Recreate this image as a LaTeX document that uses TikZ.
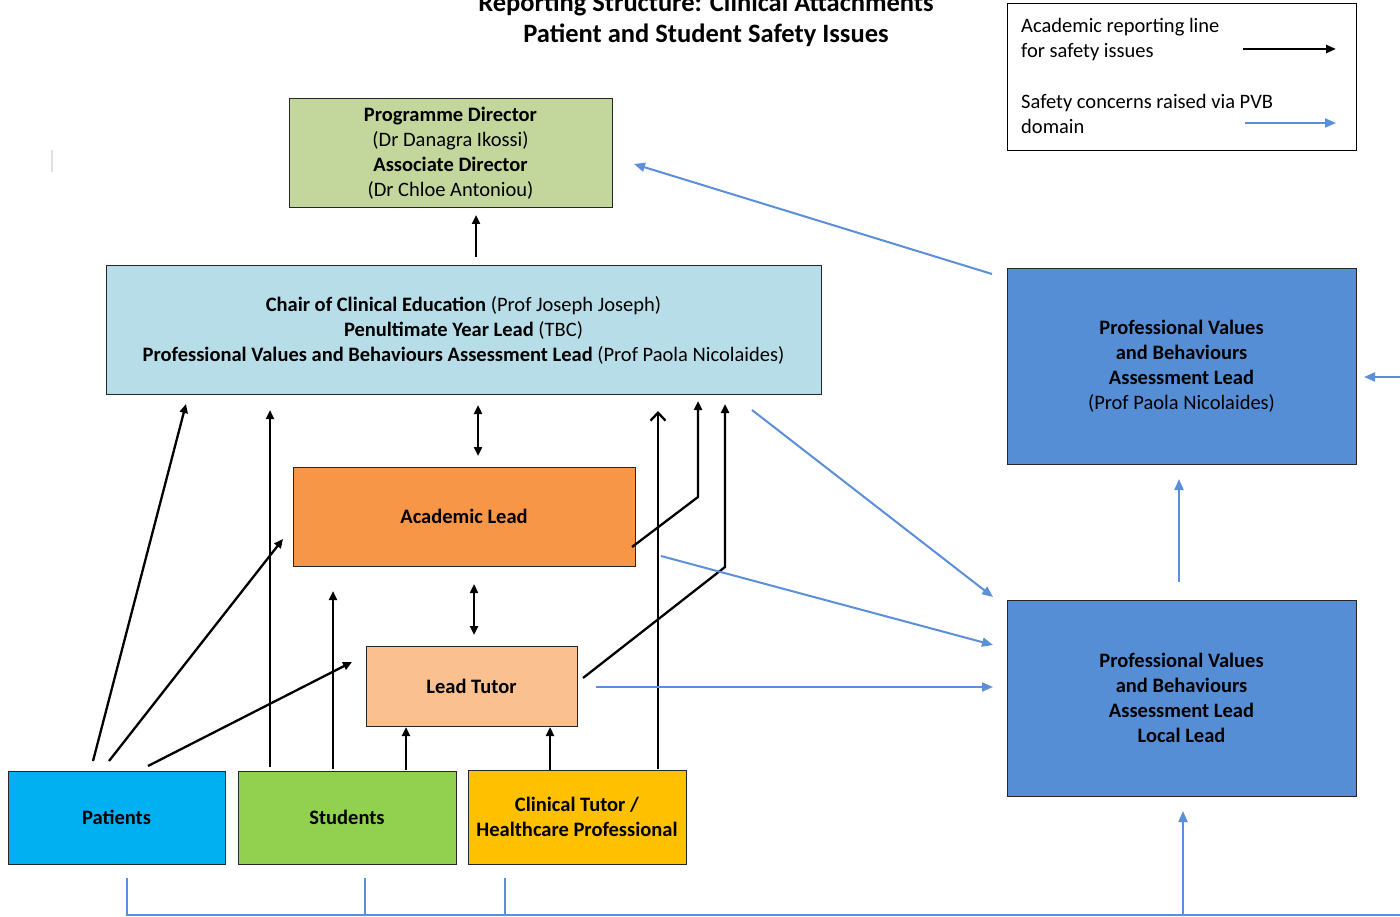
\documentclass[tikz,border=0pt]{standalone}
\usepackage{fontspec}
\setmainfont{Carlito}
\usetikzlibrary{arrows.meta}
\definecolor{pdgreen}{HTML}{C3D69B}
\definecolor{chairblue}{HTML}{B7DDE8}
\definecolor{acorange}{HTML}{F79646}
\definecolor{ltpeach}{HTML}{FAC090}
\definecolor{patcyan}{HTML}{00B0F0}
\definecolor{stugreen}{HTML}{92D050}
\definecolor{ctyellow}{HTML}{FFC000}
\definecolor{pvbfill}{HTML}{558ED5}
\definecolor{pvbline}{HTML}{5B8FD9}
\begin{document}
\begin{tikzpicture}[x=1pt,y=-1pt,
  box/.style={draw=black!85, line width=1pt, inner sep=0pt, align=center,
    font=\fontsize{20.5}{25}\selectfont},
  blk/.style={line width=2.3pt, black, -{Triangle[length=9pt,width=8pt]}},
  blkboth/.style={line width=2.3pt, black, {Triangle[length=9pt,width=8pt]}-{Triangle[length=9pt,width=8pt]}},
  blkopen/.style={line width=2.3pt, black, -{Straight Barb[length=8pt,width=15pt]}},
  blu/.style={line width=2pt, pvbline, -{Triangle[length=11pt,width=9pt]}},
  bluline/.style={line width=2pt, pvbline},
  legtext/.style={anchor=west, align=left, inner sep=0pt, font=\fontsize{20.5}{25}\selectfont}]
\useasboundingbox (0,0) rectangle (1400,917);
\clip (0,0) rectangle (1400,917);

% title
\node[align=center, font=\fontsize{26.5}{31}\selectfont\bfseries] (title) at (706,20)
  {Reporting Structure: Clinical Attachments\\Patient and Student Safety Issues};

% faint mark
\draw[black!12, line width=1.2pt] (52,150) -- (52,172);

% legend
\node[draw=black, line width=1pt, minimum width=349pt, minimum height=147pt, inner sep=0pt] (legend) at (1181.5,77.5) {};
\node[legtext] (leg1) at (1021,40) {Academic reporting line\\for safety issues};
\node[legtext] (leg2) at (1021,114) {Safety concerns raised via PVB\\domain};
\coordinate (l1a) at (1243,49); \coordinate (l1b) at (1336,49);
\coordinate (l2a) at (1245,123); \coordinate (l2b) at (1336,123);
\draw[line width=2.3pt, black, -{Triangle[length=10pt,width=8pt]}] (l1a) -- (l1b);
\draw[line width=2pt, pvbline, -{Triangle[length=11pt,width=9pt]}] (l2a) -- (l2b);

% boxes
\node[box, fill=pdgreen, minimum width=323pt, minimum height=109pt] (pd) at (450.5,153.5)
  {\textbf{Programme Director}\\(Dr Danagra Ikossi)\\\textbf{Associate Director}\\(Dr Chloe Antoniou)};
\node[box, fill=chairblue, minimum width=715pt, minimum height=128pt] (chair) at (463.5,330)
  {\textbf{Chair of Clinical Education} (Prof Joseph Joseph)\\\textbf{Penultimate Year Lead} (TBC)\\\textbf{Professional Values and Behaviours Assessment Lead} (Prof Paola Nicolaides)};
\node[box, fill=acorange, minimum width=342pt, minimum height=99pt] (acad) at (464,516.5)
  {\textbf{Academic Lead}};
\node[box, fill=ltpeach, minimum width=211pt, minimum height=80pt] (tutor) at (471.5,686)
  {\textbf{Lead Tutor}};
\node[box, fill=patcyan, minimum width=217pt, minimum height=93pt] (pat) at (116.5,817.5)
  {\textbf{Patients}};
\node[box, fill=stugreen, minimum width=218pt, minimum height=93pt] (stu) at (347,817.5)
  {\textbf{Students}};
\node[box, fill=ctyellow, minimum width=218pt, minimum height=94pt] (ct) at (577,817)
  {\textbf{Clinical Tutor /}\\\textbf{Healthcare Professional}};
\node[box, fill=pvbfill, minimum width=349pt, minimum height=195pt] (pvbu) at (1181.5,366.5)
  {\textbf{Professional Values}\\\textbf{and Behaviours}\\\textbf{Assessment Lead}\\(Prof Paola Nicolaides)};
\node[box, fill=pvbfill, minimum width=349pt, minimum height=196pt] (pvbl) at (1181.5,698)
  {\textbf{Professional Values}\\\textbf{and Behaviours}\\\textbf{Assessment Lead}\\\textbf{Local Lead}};

% black connectors
\coordinate (c1a) at (476,257); \coordinate (c1b) at (476,215);
\draw[blk] (c1a) -- (c1b);
\coordinate (d1a) at (478,405); \coordinate (d1b) at (478,456);
\draw[blkboth] (d1a) -- (d1b);
\coordinate (d2a) at (474,584); \coordinate (d2b) at (474,635);
\draw[blkboth] (d2a) -- (d2b);
\coordinate (p1a) at (93,761); \coordinate (p1b) at (186,404);
\draw[blk] (p1a) -- (p1b);
\coordinate (p2a) at (109,761); \coordinate (p2b) at (283,539);
\draw[blk] (p2a) -- (p2b);
\coordinate (p3a) at (148,766); \coordinate (p3b) at (352,662);
\draw[blk] (p3a) -- (p3b);
\coordinate (s1a) at (270,767); \coordinate (s1b) at (270,410);
\draw[blk] (s1a) -- (s1b);
\coordinate (s2a) at (333,769); \coordinate (s2b) at (333,591);
\draw[blk] (s2a) -- (s2b);
\coordinate (s3a) at (406,770); \coordinate (s3b) at (406,727);
\draw[blk] (s3a) -- (s3b);
\coordinate (t1a) at (550,770); \coordinate (t1b) at (550,727);
\draw[blk] (t1a) -- (t1b);
\coordinate (t2a) at (658,769); \coordinate (t2b) at (658,411);
\draw[blkopen] (t2a) -- (t2b);
\coordinate (a1a) at (632,547); \coordinate (a1m) at (698,497); \coordinate (a1b) at (698,401);
\draw[blk] (a1a) -- (a1m) -- (a1b);
\coordinate (lt1a) at (583,678); \coordinate (lt1m) at (725,567); \coordinate (lt1b) at (725,404);
\draw[blk] (lt1a) -- (lt1m) -- (lt1b);

% blue connectors
\coordinate (b1a) at (992,274); \coordinate (b1b) at (634,164);
\draw[blu] (b1a) -- (b1b);
\coordinate (b2a) at (752,410); \coordinate (b2b) at (993,597);
\draw[blu] (b2a) -- (b2b);
\coordinate (b3a) at (661,556); \coordinate (b3b) at (993,645);
\draw[blu] (b3a) -- (b3b);
\coordinate (b4a) at (596,687); \coordinate (b4b) at (993,687);
\draw[blu] (b4a) -- (b4b);
\coordinate (b5a) at (1179,582); \coordinate (b5b) at (1179,479);
\draw[blu] (b5a) -- (b5b);
\coordinate (b6a) at (1402,377); \coordinate (b6b) at (1364,377);
\draw[blu] (b6a) -- (b6b);
% bottom bracket
\coordinate (bb1) at (127,878); \coordinate (bb2) at (365,878); \coordinate (bb3) at (505,878);
\coordinate (bl) at (127,915); \coordinate (br) at (1402,915);
\coordinate (bup) at (1183,915); \coordinate (bupb) at (1183,811);
\draw[bluline] (bb1) -- (bl) -- (br);
\draw[bluline] (bb2) -- (bb2 |- bl);
\draw[bluline] (bb3) -- (bb3 |- bl);
\draw[blu] (bup) -- (bupb);
\end{tikzpicture}
\end{document}
